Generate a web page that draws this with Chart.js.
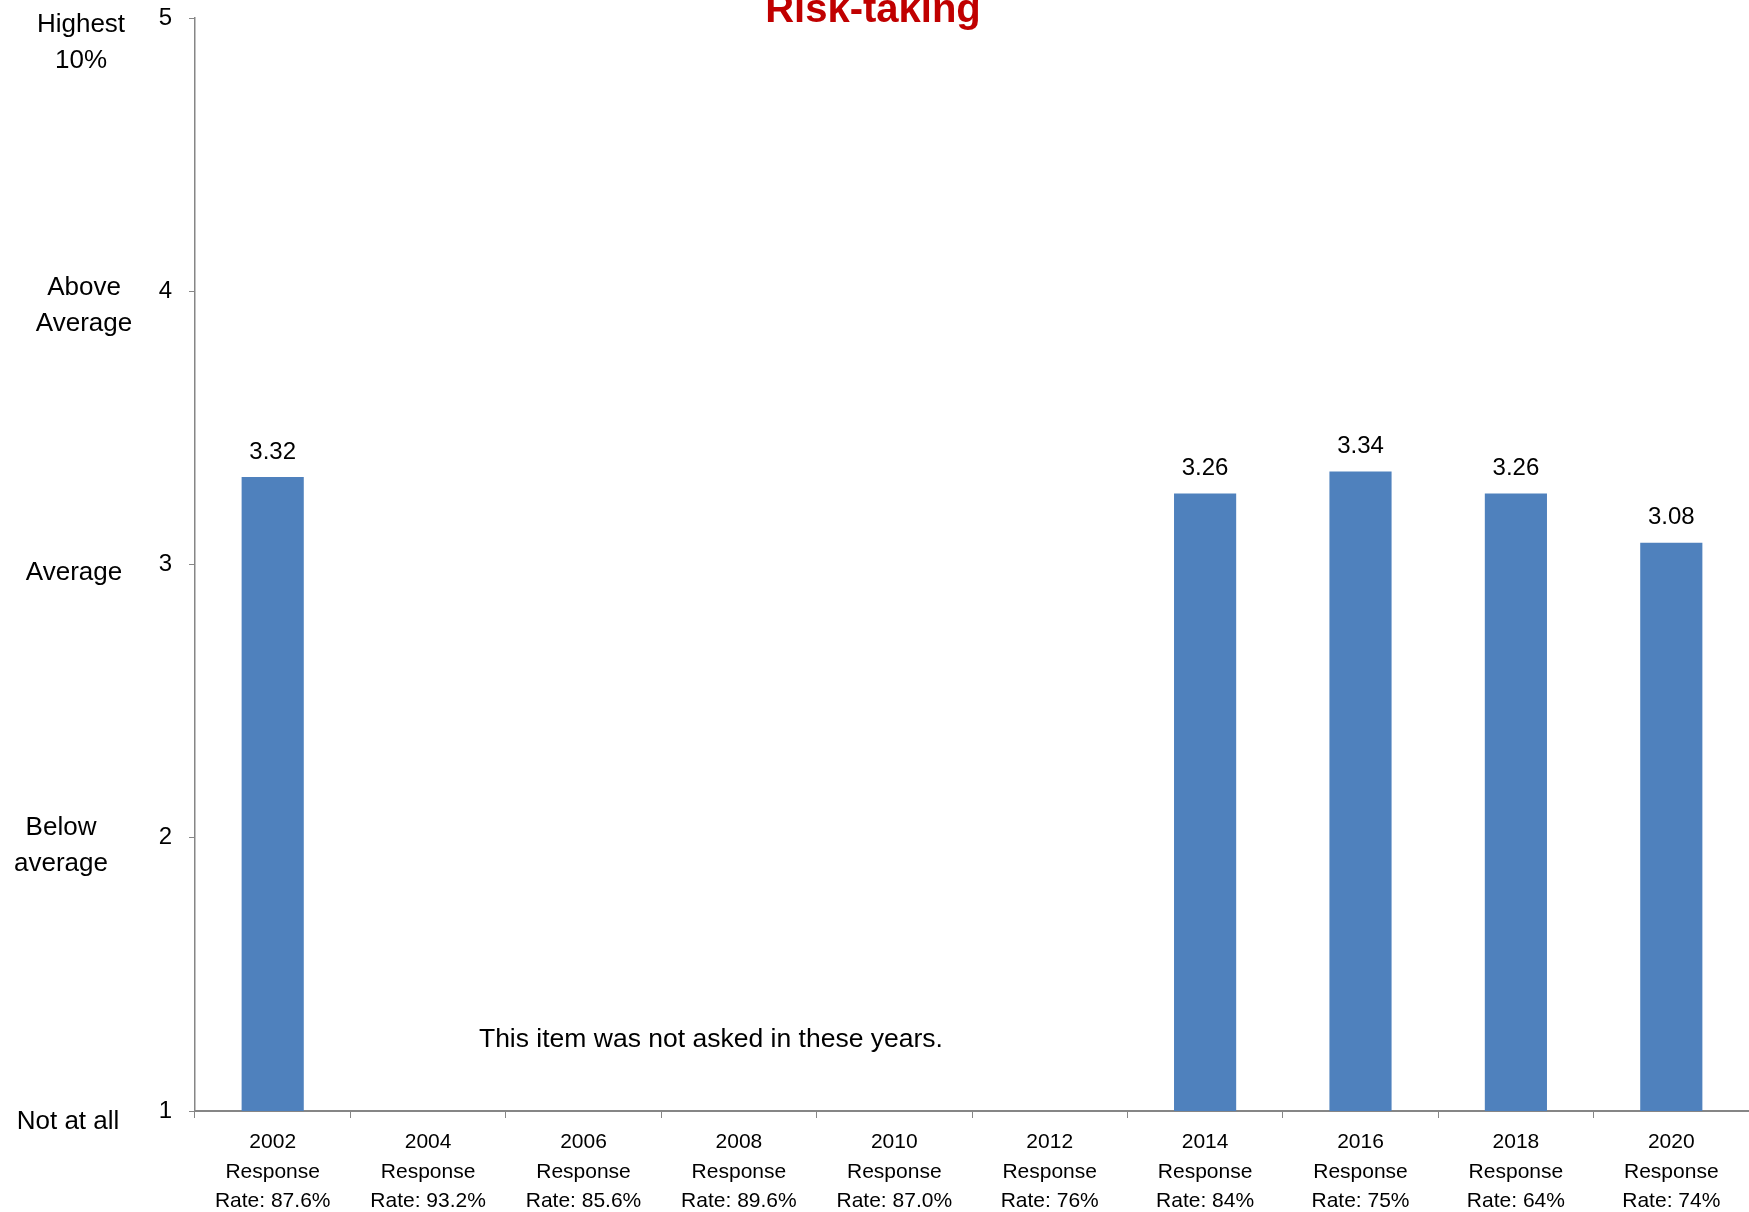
<!DOCTYPE html>
<html>
<head>
<meta charset="utf-8">
<script src="https://cdn.jsdelivr.net/npm/chart.js@4"></script>
<style>
    body { margin: 0; background: #fff; }
    #wrap { width: 1749px; height: 1212px; }
</style>
</head>
<body>
<div id="wrap"><canvas id="chart" width="1749" height="1212"></canvas></div>
<script>
// ========== DATA ==========
const years = ['2002', '2004', '2006', '2008', '2010', '2012', '2014', '2016', '2018', '2020'];
const responseRates = ['87.6%', '93.2%', '85.6%', '89.6%', '87.0%', '76%', '84%', '75%', '64%', '74%'];
const scores = [3.32, null, null, null, null, null, 3.26, 3.34, 3.26, 3.08];
const yTicks = [1, 2, 3, 4, 5];
const yTickNames = [['Not at all'], ['Below', 'average'], ['Average'], ['Above', 'Average'], ['Highest', '10%']];
const chartTitle = 'Risk-taking';
const noteText = 'This item was not asked in these years.';

const FONT = "'Liberation Sans', Arial, sans-serif";
const AXIS_GREY = '#868686';

const xLabels = years.map((y, i) => [y, 'Response', 'Rate: ' + responseRates[i]]);

// Draws title, value labels, left-hand scale names and the note
const extrasPlugin = {
    id: 'extras',
    afterDraw(chart) {
        const ctx = chart.ctx;
        const x = chart.scales.x;
        const y = chart.scales.y;
        ctx.save();

        // Title (partly cut off at top, as in the original)
        ctx.fillStyle = '#C00000';
        ctx.font = 'bold 40px ' + FONT;
        ctx.textAlign = 'center';
        ctx.textBaseline = 'alphabetic';
        ctx.fillText(chartTitle, 873, 22);

        // Value labels above bars
        ctx.fillStyle = '#000';
        ctx.font = '24px ' + FONT;
        ctx.textBaseline = 'middle';
        const meta = chart.getDatasetMeta(0);
        meta.data.forEach((bar, i) => {
            if (scores[i] == null) return;
            ctx.fillText(scores[i].toFixed(2), bar.x, bar.y - 25);
        });

        // Scale names left of the y axis
        ctx.font = '26px ' + FONT;
        const nameX = [68, 61, 74, 84, 81];
        const nameDy = [11, 8, 8.5, 14.5, 25];
        const lineH = 35.5;
        yTicks.forEach((v, i) => {
            const lines = yTickNames[i];
            const cy = y.getPixelForValue(v) + nameDy[i];
            const top = cy - (lines.length - 1) * lineH / 2;
            lines.forEach((t, j) => ctx.fillText(t, nameX[i], top + j * lineH));
        });

        // Note about missing years
        ctx.font = '26.5px ' + FONT;
        const nx = x.getPixelForValue(2) + 0.82 * (x.getPixelForValue(3) - x.getPixelForValue(2));
        ctx.fillText(noteText, nx, y.getPixelForValue(1.262));

        ctx.restore();
    }
};

new Chart(document.getElementById('chart'), {
    type: 'bar',
    data: {
        labels: xLabels,
        datasets: [{
            data: scores,
            backgroundColor: '#4F81BD',
            borderWidth: 0,
            categoryPercentage: 1.0,
            barPercentage: 0.4
        }]
    },
    options: {
        responsive: false,
        animation: false,
        layout: { padding: { top: 18, right: 0, left: 0, bottom: 0 } },
        plugins: {
            legend: { display: false },
            tooltip: { enabled: false }
        },
        scales: {
            x: {
                offset: true,
                grid: {
                    offset: true,
                    drawOnChartArea: false,
                    drawTicks: true,
                    tickLength: 7,
                    color: AXIS_GREY
                },
                border: { color: AXIS_GREY, width: 2 },
                ticks: {
                    color: '#000',
                    font: { family: FONT, size: 21, lineHeight: 1.4 },
                    padding: 10,
                    maxRotation: 0,
                    autoSkip: false
                },
                afterFit(scale) {
                    scale.height = 101;
                    scale.paddingLeft = 0;
                    scale.paddingRight = 0;
                }
            },
            y: {
                min: 1,
                max: 5,
                ticks: {
                    stepSize: 1,
                    color: '#000',
                    font: { family: FONT, size: 24 },
                    padding: 17
                },
                grid: {
                    drawOnChartArea: false,
                    drawTicks: true,
                    tickLength: 6,
                    color: AXIS_GREY
                },
                border: { color: AXIS_GREY, width: 1.5 },
                afterFit(scale) {
                    scale.width = 195;
                    scale.paddingTop = 0;
                    scale.paddingBottom = 0;
                }
            }
        }
    },
    plugins: [extrasPlugin]
});
</script>
</body>
</html>
